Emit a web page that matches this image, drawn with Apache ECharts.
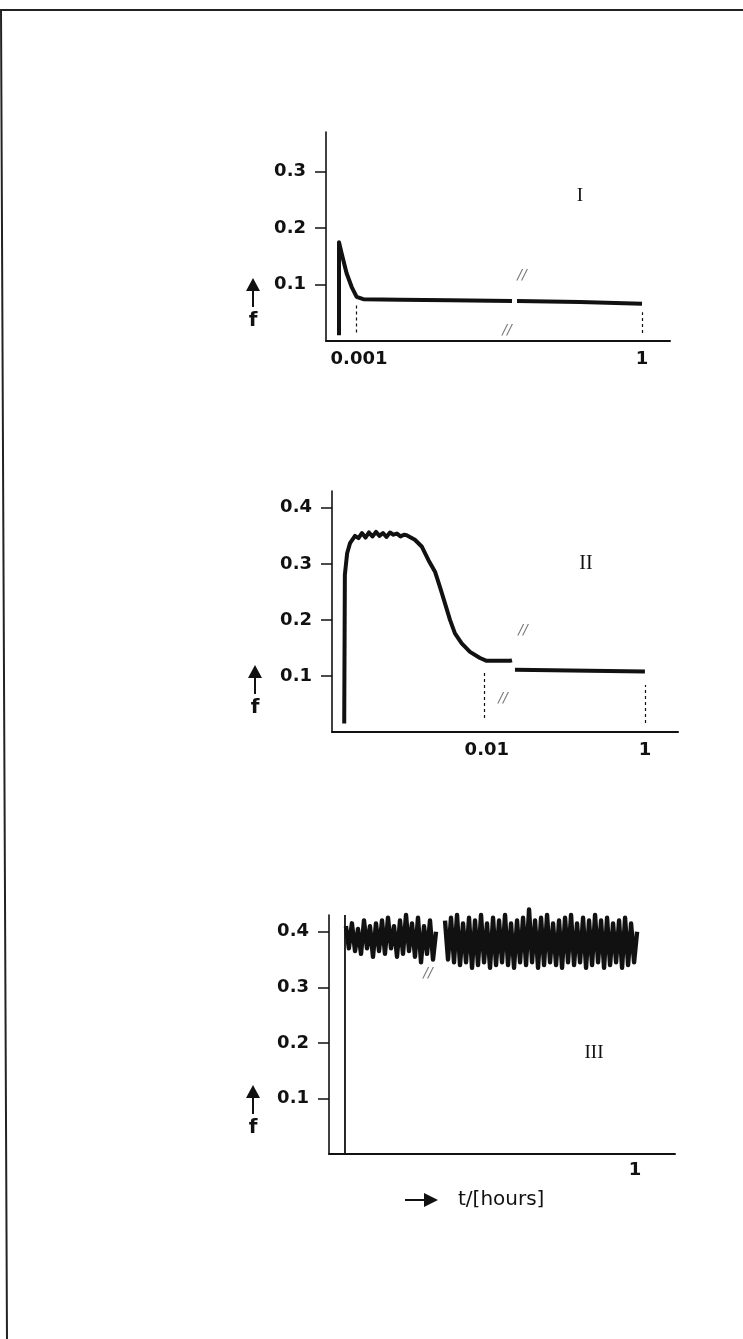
<!DOCTYPE html>
<html lang="en">
  <head>
    <meta charset="UTF-8" />
    <title>f vs t</title>
    <style>
      html, body { margin: 0; padding: 0; background: #fff; }
      #main { width: 743px; height: 1339px; }
    </style>
  </head>
  <body>
    <div id="main"></div>
    <script src="https://cdn.jsdelivr.net/npm/echarts@6/dist/echarts.min.js"></script>
    <script>
      // panel I : t in hours (log axis), f
      const tI = [6.14e-4, 6.14e-4, 6.55e-4, 7.39e-4, 8.35e-4, 9.44e-4, 1.11e-3, 2.72e-3, 9.2e-3, 0.0419, 0.045, 0.0473, 0.22, 1.0];
      const fI = [0.01, 0.175, 0.155, 0.12, 0.096, 0.078, 0.074, 0.073, 0.072, 0.071, null, 0.071, 0.069, 0.066];

      // panel II
      const tII = [1.57e-4, 1.6e-4, 1.64e-4, 1.71e-4, 1.86e-4, 2.15e-4,
        2.38e-4, 2.63e-4, 2.92e-4, 3.23e-4, 3.57e-4, 3.96e-4, 4.38e-4, 4.86e-4, 5.37e-4, 5.95e-4, 6.59e-4, 7.3e-4, 8.09e-4, 8.95e-4,
        9.68e-4, 1.23e-3, 1.5e-3, 1.82e-3, 2.21e-3, 2.55e-3, 2.95e-3, 3.42e-3, 3.95e-3, 4.81e-3, 6.12e-3, 8.19e-3, 9.95e-3, 0.0196, 0.0208,
        0.0215, 0.0227, 1.0];
      const fII = [0.015, 0.28, 0.295, 0.319, 0.337, 0.35,
        0.346, 0.355, 0.347, 0.356, 0.349, 0.357, 0.35, 0.355, 0.348, 0.356, 0.352, 0.354, 0.349, 0.352,
        0.351, 0.343, 0.331, 0.307, 0.286, 0.259, 0.23, 0.2, 0.176, 0.158, 0.143, 0.132, 0.127, 0.127, 0.128,
        null, 0.111, 0.108];

      // panel III : jump then noisy band
      const tIIIrise = [2.15e-4, 2.15e-4];
      const fIIIrise = [0, 0.43];
      const tIII = [2.21e-4, 2.41e-4, 2.63e-4, 2.88e-4, 3.14e-4, 3.43e-4, 3.74e-4, 4.08e-4, 4.45e-4, 4.86e-4,
        5.3e-4, 5.79e-4, 6.32e-4, 6.89e-4, 7.52e-4, 8.21e-4, 8.96e-4, 9.78e-4, 1.067e-3, 1.164e-3,
        1.271e-3, 1.387e-3, 1.513e-3, 1.651e-3, 1.802e-3, 1.967e-3, 2.146e-3, 2.342e-3, 2.556e-3, 2.789e-3,
        3.044e-3, 3.322e-3, 3.625e-3, 3.956e-3, 4.317e-3, 4.711e-3, 5.141e-3, 5.611e-3, 6.123e-3, 6.682e-3,
        7.292e-3, 7.958e-3, 8.685e-3, 9.478e-3, 0.01034, 0.01129, 0.01232, 0.01344, 0.01467, 0.01601,
        0.01747, 0.01907, 0.02081, 0.02271, 0.02478, 0.02704, 0.02951, 0.03221, 0.03515, 0.03836,
        0.04186, 0.04568, 0.04985, 0.0544, 0.05937, 0.06479, 0.07071, 0.07716, 0.0842, 0.0919,
        0.1003, 0.1094, 0.1194, 0.1303, 0.1422, 0.1552, 0.1694, 0.1848, 0.2017, 0.2201,
        0.2402, 0.2621, 0.2861, 0.3122, 0.3407, 0.3718, 0.4058, 0.4428, 0.4832, 0.5273,
        0.5755, 0.628, 0.6854, 0.748, 0.8163, 0.8908, 0.9721, 1.061];
      const fIII = [0.41, 0.37, 0.415, 0.365, 0.405, 0.36, 0.42, 0.37, 0.41, 0.355,
        0.415, 0.365, 0.42, 0.36, 0.425, 0.37, 0.41, 0.355, 0.42, 0.36,
        0.43, 0.365, 0.415, 0.355, 0.425, 0.345, 0.41, 0.36, 0.42, 0.35,
        0.4, null, null, 0.42, 0.35, 0.425, 0.345, 0.43, 0.34, 0.415,
        0.345, 0.425, 0.335, 0.42, 0.34, 0.43, 0.345, 0.415, 0.335, 0.425,
        0.34, 0.42, 0.345, 0.43, 0.34, 0.415, 0.335, 0.42, 0.345, 0.425,
        0.34, 0.44, 0.345, 0.42, 0.335, 0.425, 0.34, 0.43, 0.345, 0.415,
        0.34, 0.42, 0.335, 0.425, 0.345, 0.43, 0.34, 0.415, 0.345, 0.425,
        0.335, 0.42, 0.34, 0.43, 0.345, 0.42, 0.335, 0.425, 0.34, 0.415,
        0.345, 0.42, 0.335, 0.425, 0.34, 0.415, 0.345, 0.4];

      // dotted drop lines: [t, fLow, fHigh]
      const dropsI = [[9.3e-4, 0.015, 0.065], [1, 0.014, 0.051]];
      const dropsII = [[9.2e-3, 0.025, 0.11], [1, 0.016, 0.084]];

      // axis break marks [t, f]
      const breaksI = [[0.0535, 0.117], [0.037, 0.018]];
      const breaksII = [[0.0286, 0.182], [0.016, 0.06]];
      const breaksIII = [[4.99e-3, 0.46], [2.41e-3, 0.325]];

      // ticks
      const xTicksI = [0.001, 1], xLabelsI = ['0.001', '1'];
      const xTicksII = [0.01, 1], xLabelsII = ['0.01', '1'];
      const xTicksIII = [1], xLabelsIII = ['1'];
      const yTicksI = [0.1, 0.2, 0.3];
      const yTicksII = [0.1, 0.2, 0.3, 0.4];
      const yTicksIII = [0.1, 0.2, 0.3, 0.4];

      const ink = '#111';
      const font = 'DejaVu Sans';

      const zip = (xs, ys) => xs.map((x, i) => [x, ys[i]]);

      function xFmt(ticks, labels) {
        return function (v) {
          for (let i = 0; i < ticks.length; i++) {
            if (Math.abs(Math.log10(v) - Math.log10(ticks[i])) < 1e-6) return labels[i];
          }
          return '';
        };
      }

      const tickFont = { color: ink, fontFamily: font, fontSize: 18, fontWeight: 'bold' };

      function xAxis(idx, min, max, ticks, labels, margin) {
        return {
          type: 'log', gridIndex: idx, min: min, max: max, logBase: 10,
          axisLine: { lineStyle: { color: ink, width: 2 } },
          axisTick: { show: false },
          splitLine: { show: false },
          minorTick: { show: false },
          axisLabel: Object.assign({ formatter: xFmt(ticks, labels), margin: margin }, tickFont)
        };
      }

      function yAxis(idx, max, ticks) {
        return {
          type: 'value', gridIndex: idx, min: 0, max: max, interval: 0.1,
          axisLine: { show: true, lineStyle: { color: ink, width: 1.6 } },
          axisTick: { show: true, length: 11, customValues: ticks, lineStyle: { color: ink, width: 1.5 } },
          splitLine: { show: false },
          axisLabel: Object.assign({ customValues: ticks, margin: 20 }, tickFont)
        };
      }

      function dropLines(drops) {
        return {
          silent: true, symbol: 'none', label: { show: false },
          lineStyle: { color: ink, type: [3, 3], width: 1.2 },
          data: drops.map(d => [{ coord: [d[0], d[1]] }, { coord: [d[0], d[2]] }])
        };
      }

      function breakSeries(idx, pts) {
        return {
          type: 'scatter', xAxisIndex: idx, yAxisIndex: idx, data: pts, symbolSize: 1,
          itemStyle: { color: 'rgba(0,0,0,0)' }, silent: true,
          label: { show: true, position: 'inside', formatter: '//', fontStyle: 'italic', fontSize: 14, color: '#555', fontFamily: font }
        };
      }

      function fArrow(x, tip) {
        return [
          { type: 'polygon', shape: { points: [[x, tip], [x - 7, tip + 13], [x + 7, tip + 13]] }, style: { fill: ink } },
          { type: 'line', shape: { x1: x, y1: tip + 10, x2: x, y2: tip + 29 }, style: { stroke: ink, lineWidth: 2 } },
          { type: 'text', x: x, y: tip + 43, style: { text: 'f', font: 'bold 20px ' + font, fill: ink, align: 'center', verticalAlign: 'middle' } }
        ];
      }

      function roman(txt, x, y, size) {
        return { type: 'text', x: x, y: y, style: { text: txt, font: size + 'px "Liberation Serif"', fill: ink, align: 'center', verticalAlign: 'middle' } };
      }

      const myChart = echarts.init(document.getElementById('main'));

      const option = {
        animation: false,
        backgroundColor: '#fff',
        grid: [
          { left: 326, top: 132, width: 344, height: 209 },
          { left: 332, top: 491, width: 346, height: 241 },
          { left: 329, top: 915, width: 346, height: 239 }
        ],
        xAxis: [
          xAxis(0, 0.000447, 1.98, xTicksI, xLabelsI, 9),
          xAxis(1, 0.00011, 2.62, xTicksII, xLabelsII, 9),
          xAxis(2, 0.000135, 3.2, xTicksIII, xLabelsIII, 7)
        ],
        yAxis: [
          yAxis(0, 0.37, yTicksI),
          yAxis(1, 0.43, yTicksII),
          yAxis(2, 0.43, yTicksIII)
        ],
        series: [
          {
            type: 'line', xAxisIndex: 0, yAxisIndex: 0, data: zip(tI, fI), symbol: 'none', clip: false,
            lineStyle: { color: ink, width: 4, join: 'round' },
            markLine: dropLines(dropsI)
          },
          breakSeries(0, breaksI),
          {
            type: 'line', xAxisIndex: 1, yAxisIndex: 1, data: zip(tII, fII), symbol: 'none', clip: false,
            lineStyle: { color: ink, width: 4, join: 'round' },
            markLine: dropLines(dropsII)
          },
          breakSeries(1, breaksII),
          {
            type: 'line', xAxisIndex: 2, yAxisIndex: 2, data: zip(tIIIrise, fIIIrise), symbol: 'none', clip: false,
            lineStyle: { color: ink, width: 1.8 }
          },
          {
            type: 'line', xAxisIndex: 2, yAxisIndex: 2, data: zip(tIII, fIII), symbol: 'none', clip: false,
            lineStyle: { color: ink, width: 4.4, join: 'round' }
          },
          breakSeries(2, breaksIII)
        ],
        graphic: [
          { type: 'polyline', shape: { points: [[743, 10], [1, 10], [7, 1339]] }, style: { stroke: '#222', lineWidth: 2, fill: null } },
          ...fArrow(253, 278),
          ...fArrow(255, 665),
          ...fArrow(253, 1085),
          roman('I', 580, 196, 19),
          roman('II', 586, 564, 20),
          roman('III', 594, 1053, 19),
          { type: 'line', shape: { x1: 405, y1: 1200, x2: 426, y2: 1200 }, style: { stroke: ink, lineWidth: 2 } },
          { type: 'polygon', shape: { points: [[438, 1200], [424, 1193], [424, 1207]] }, style: { fill: ink } },
          { type: 'text', x: 458, y: 1200, style: { text: 't/[hours]', font: '20px ' + font, fill: ink, verticalAlign: 'middle' } }
        ]
      };

      myChart.setOption(option);
    </script>
  </body>
</html>
